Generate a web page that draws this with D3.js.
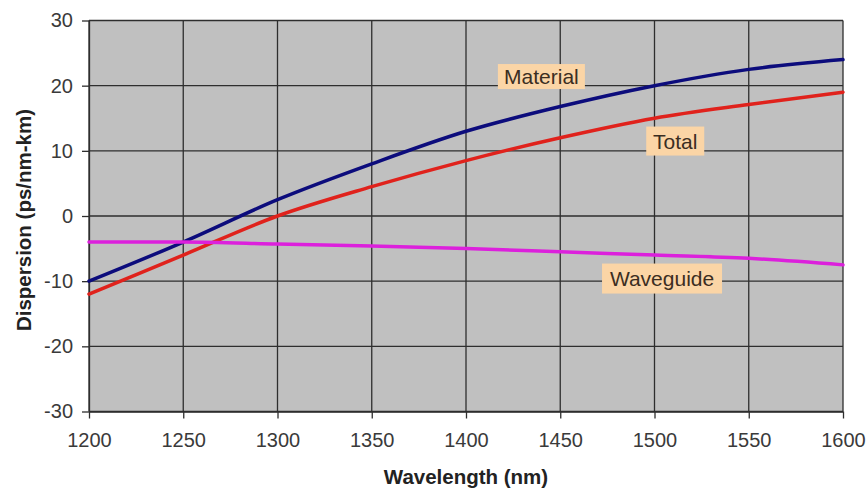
<!DOCTYPE html>
<html>
<head>
<meta charset="utf-8">
<script src="https://cdn.jsdelivr.net/npm/d3@7"></script>
<style>
  body { margin: 0; background: #fff; }
  text { font-family: Arial, "Liberation Sans", sans-serif; }
</style>
</head>
<body>
<svg id="chart" width="868" height="488"></svg>
<script>
// values
var wavelengths = [1200, 1250, 1300, 1350, 1400, 1450, 1500, 1550, 1600];
var material  = [-10, -4, 2.5, 8, 13, 16.8, 20, 22.5, 24];
var total     = [-12, -6, 0, 4.5, 8.5, 12, 15, 17.1, 19];
var waveguide = [-4, -4, -4.3, -4.6, -5, -5.5, -6, -6.5, -7.5];

var xTicks = [1200, 1250, 1300, 1350, 1400, 1450, 1500, 1550, 1600];
var yTicks = [-30, -20, -10, 0, 10, 20, 30];

var series = [
  { name: "Material", values: material, color: "#0c0c7c" },
  { name: "Total", values: total, color: "#e0221c" },
  { name: "Waveguide", values: waveguide, color: "#dc20dc" }
];

// where the callout labels sit, in data units
var labels = [
  { text: "Material", x: 1440, y: 21.4, w: 87, h: 25 },
  { text: "Total", x: 1511, y: 11.5, w: 58, h: 29 },
  { text: "Waveguide", x: 1504, y: -9.6, w: 120, h: 30 }
];

var svg = d3.select("#chart");
var width = +svg.attr("width");
var height = +svg.attr("height");
var margin = { top: 20.5, right: 25, bottom: 76.5, left: 89 };

var x = d3.scaleLinear()
  .domain([1200, 1600])
  .range([margin.left, width - margin.right]);

var y = d3.scaleLinear()
  .domain([-30, 30])
  .range([height - margin.bottom, margin.top]);

// plot background
svg.append("rect")
  .attr("x", x(1200))
  .attr("y", y(30))
  .attr("width", x(1600) - x(1200))
  .attr("height", y(-30) - y(30))
  .attr("fill", "#c0c0c0");

// grid
var grid = svg.append("g").attr("stroke", "#2e2e2e").attr("stroke-width", 1.3);
grid.selectAll(".vg").data(xTicks).enter().append("line")
  .attr("x1", d => x(d)).attr("x2", d => x(d))
  .attr("y1", y(30)).attr("y2", y(-30));
grid.selectAll(".hg").data(yTicks).enter().append("line")
  .attr("x1", x(1200)).attr("x2", x(1600))
  .attr("y1", d => y(d)).attr("y2", d => y(d));

// axes
var xAxis = svg.append("g")
  .attr("transform", `translate(0,${y(-30)})`)
  .call(d3.axisBottom(x).tickValues(xTicks).tickFormat(d3.format("d"))
    .tickSize(7).tickPadding(14).tickSizeOuter(0));

var yAxis = svg.append("g")
  .attr("transform", `translate(${x(1200)},0)`)
  .call(d3.axisLeft(y).tickValues(yTicks).tickFormat(d => d)
    .tickSize(7).tickPadding(9).tickSizeOuter(0));

[xAxis, yAxis].forEach(a => {
  a.select(".domain").attr("stroke", "#2e2e2e").attr("stroke-width", 1.3);
  a.selectAll(".tick line").attr("stroke", "#2e2e2e").attr("stroke-width", 1.3);
  a.selectAll(".tick text")
    .attr("fill", "#3a3a3a")
    .style("font-size", "20px")
    .style("font-family", "Arial, 'Liberation Sans', sans-serif");
});

// curves
var line = d3.line()
  .x((d, i) => x(wavelengths[i]))
  .y(d => y(d))
  .curve(d3.curveMonotoneX);

svg.append("g").selectAll("path")
  .data(series)
  .enter().append("path")
  .attr("d", d => line(d.values))
  .attr("fill", "none")
  .attr("stroke", d => d.color)
  .attr("stroke-width", 3.5)
  .attr("stroke-linecap", "round");

// callout labels
var lab = svg.append("g").selectAll("g")
  .data(labels)
  .enter().append("g")
  .attr("transform", d => `translate(${x(d.x)},${y(d.y)})`);

lab.append("rect")
  .attr("x", d => -d.w / 2)
  .attr("y", d => -d.h / 2)
  .attr("width", d => d.w)
  .attr("height", d => d.h)
  .attr("fill", "#fbd5a6");

lab.append("text")
  .attr("text-anchor", "middle")
  .attr("dy", "0.36em")
  .attr("fill", "#3b2e22")
  .style("font-size", "21px")
  .text(d => d.text);

// axis titles
svg.append("text")
  .attr("x", (x(1200) + x(1600)) / 2)
  .attr("y", 484)
  .attr("text-anchor", "middle")
  .attr("fill", "#222")
  .style("font-size", "20.5px")
  .style("font-weight", "bold")
  .text("Wavelength (nm)");

svg.append("text")
  .attr("transform", "translate(31,220) rotate(-90)")
  .attr("text-anchor", "middle")
  .attr("fill", "#222")
  .style("font-size", "20.5px")
  .style("font-weight", "bold")
  .text("Dispersion (ps/nm-km)");
</script>
</body>
</html>
